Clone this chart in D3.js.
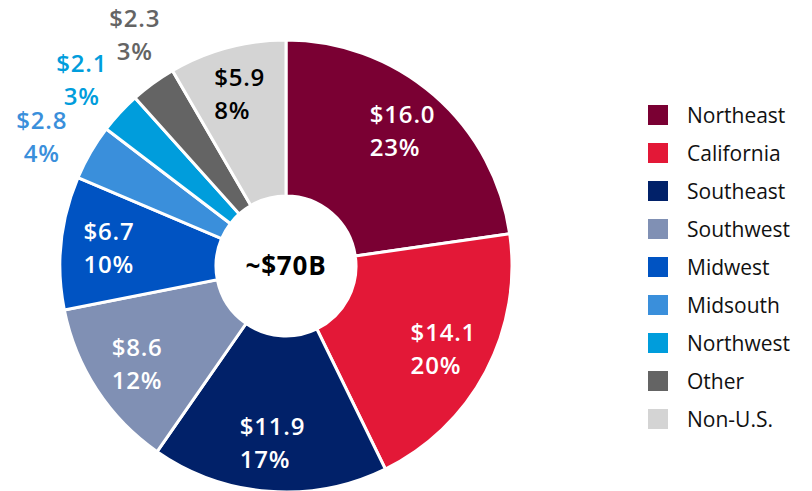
<!DOCTYPE html>
<html>
<head>
<meta charset="utf-8">
<script src="https://cdn.jsdelivr.net/npm/d3@7"></script>
<style>
  body { margin: 0; background: #fff; }
  text { font-family: "Open Sans", sans-serif; }
</style>
</head>
<body>
<div id="chart"></div>
<script>
// regions, values ($B) and share labels
const regions = ["Northeast", "California", "Southeast", "Southwest", "Midwest", "Midsouth", "Northwest", "Other", "Non-U.S."];
const amounts = [16.0, 14.1, 11.9, 8.6, 6.7, 2.8, 2.1, 2.3, 5.9];
const shares = ["23%", "20%", "17%", "12%", "10%", "4%", "3%", "3%", "8%"];
const colors = ["#7a0033", "#e31837", "#012169", "#8090b4", "#0053c2", "#3a8fdb", "#009ddc", "#646464", "#d4d4d4"];
const totalLabel = "~$70B";

const width = 812, height = 491;
const cx = 286, cy = 266, outerR = 226, innerR = 70;

const svg = d3.select("#chart").append("svg")
    .attr("width", width)
    .attr("height", height);

const data = regions.map((r, i) => ({ region: r, value: amounts[i], share: shares[i], color: colors[i] }));

const pie = d3.pie().value(d => d.value).sort(null);
const arcs = pie(data);

const arc = d3.arc().innerRadius(innerR).outerRadius(outerR);
const labelArc = d3.arc().innerRadius(178).outerRadius(178);

const g = svg.append("g").attr("transform", `translate(${cx},${cy})`);

g.selectAll("path")
    .data(arcs)
    .enter()
    .append("path")
    .attr("d", arc)
    .attr("fill", d => d.data.color)
    .attr("stroke", "#fff")
    .attr("stroke-width", 3);

// small slices get labels outside, in the slice colour
const isSmall = d => d.data.value < 3;

// spread the outside labels so they don't collide
const small = arcs.filter(isSmall);
const ang = small.map(d => (d.startAngle + d.endAngle) / 2);
const minGap = 14.5 * Math.PI / 180;
for (let k = 0; k < 50; k++) {
  for (let i = 1; i < ang.length; i++) {
    const gap = ang[i] - ang[i - 1];
    if (gap < minGap) {
      const push = (minGap - gap) / 2;
      ang[i - 1] -= push;
      ang[i] += push;
    }
  }
}
const outsideR = 276;
const outsidePos = new Map(small.map((d, i) => [d, [outsideR * Math.sin(ang[i]), -outsideR * Math.cos(ang[i])]]));

arcs.forEach(d => {
  const isOut = isSmall(d);
  const [x, y] = isOut ? outsidePos.get(d) : labelArc.centroid(d);
  const fill = isOut ? d.data.color : (d.data.region === "Non-U.S." ? "#000" : "#fff");
  const t = g.append("text")
      .attr("fill", fill)
      .attr("font-size", 24)
      .attr("font-weight", 600)
      .attr("letter-spacing", 0.8);
  const l1 = t.append("tspan").text("$" + d.data.value.toFixed(1));
  const l2 = t.append("tspan").text(d.data.share);
  if (isOut) {
    t.attr("text-anchor", "middle");
    l1.attr("x", x).attr("y", y - 8);
    l2.attr("x", x).attr("y", y + 25);
  } else {
    const w = l1.node().getComputedTextLength();
    l1.attr("x", x - w / 2).attr("y", y - 8);
    l2.attr("x", x - w / 2).attr("y", y + 25);
  }
});

g.append("text")
    .attr("text-anchor", "middle")
    .attr("y", 9)
    .attr("font-size", 26)
    .attr("font-weight", 700)
    .attr("letter-spacing", 0.8)
    .attr("fill", "#000")
    .text(totalLabel);

// legend
const legend = svg.append("g").attr("transform", "translate(648,105)");
const item = legend.selectAll("g")
    .data(data)
    .enter()
    .append("g")
    .attr("transform", (d, i) => `translate(0,${i * 38})`);

item.append("rect")
    .attr("width", 20)
    .attr("height", 20)
    .attr("fill", d => d.color);

item.append("text")
    .attr("x", 39)
    .attr("y", 18)
    .attr("font-size", 21)
    .attr("fill", "#111")
    .text(d => d.region);
</script>
</body>
</html>
